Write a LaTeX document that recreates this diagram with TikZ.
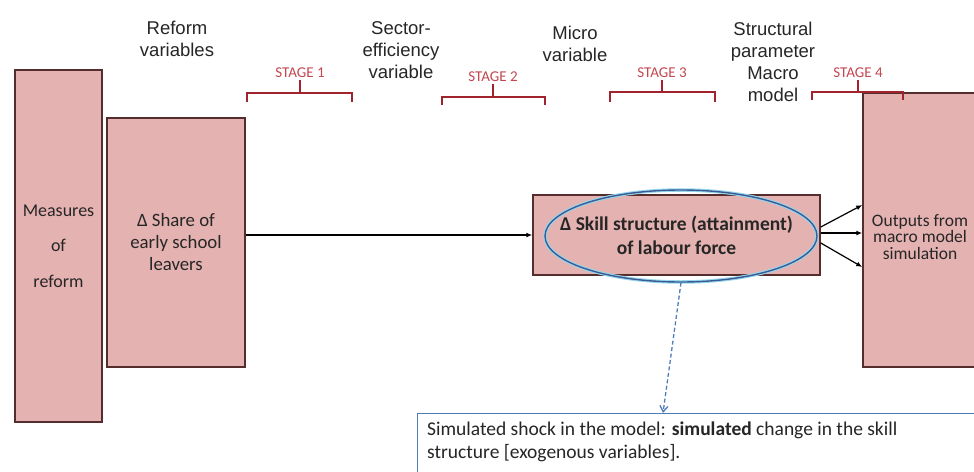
\documentclass[tikz,border=0pt]{standalone}
\usepackage{fontspec}
\setmainfont{Carlito}
\newfontfamily\hdrfont{Liberation Sans}
\usetikzlibrary{shapes.geometric,arrows.meta}
\definecolor{boxfill}{RGB}{228,178,177}
\definecolor{boxline}{RGB}{85,45,45}
\definecolor{stagered}{RGB}{195,70,80}
\definecolor{bracketred}{RGB}{160,35,45}
\definecolor{ellblue}{RGB}{60,90,150}
\definecolor{ellglow}{RGB}{150,215,235}
\definecolor{noteblue}{RGB}{80,125,185}
\begin{document}
\begin{tikzpicture}[x=1pt,y=-1pt,
  pbox/.style={draw=boxline,fill=boxfill,line width=1.5pt,inner sep=0pt},
  boxtext/.style={font=\fontsize{18.8}{22}\selectfont,align=center,text=black!85},
  header/.style={font=\hdrfont\fontsize{18.5}{22}\selectfont,align=center,text=black!85},
  stagelbl/.style={font=\fontsize{15}{16}\selectfont,text=stagered,inner sep=1.5pt},
  bracket/.style={draw=bracketred,line width=1.8pt},
  flow/.style={-{Latex[length=6pt,width=5pt]},line width=1.2pt},
]
\useasboundingbox (0,0) rectangle (974,471);
\clip (0,0) rectangle (974,471);

% column headings
\node[header] (reform) at (177,38.5) {Reform\\variables};
\node[header] (sector) at (401,50) {Sector-\\efficiency\\variable};
\node[header] (micro) at (575,43.5) {Micro\\variable};
\node[header] (structural) at (773,61.5) {Structural\\parameter\\Macro\\model};

% main boxes
\node[pbox,boxtext,font=\fontsize{18}{35.5}\selectfont,minimum width=87pt,minimum height=352pt] (measures) at (58.5,246) {Measures\\of\\reform};
\node[pbox,boxtext,minimum width=138pt,minimum height=249pt] (share) at (176,242.5) {Δ Share of\\early school\\leavers};
\node[pbox,boxtext,font=\bfseries\fontsize{19.5}{24}\selectfont,minimum width=287pt,minimum height=80pt] (skill) at (676.5,235) {Δ Skill structure (attainment)\\of labour force};
\node[ellipse,draw=ellblue,line width=1.4pt,preaction={draw=ellglow,line width=3.5pt},minimum width=272pt,minimum height=92pt,inner sep=0pt] (focus) at (681,236) {};
\node[pbox,minimum width=114pt,minimum height=274pt] (macro) at (920,230) {};
\node[boxtext,font=\fontsize{17.5}{16.5}\selectfont,inner sep=0pt] (macrotxt) at (920,237) {Outputs from\\macro model\\simulation};

% stage brackets
\node[stagelbl] (s1) at (300,73) {STAGE 1};
\node[stagelbl] (s2) at (493,77) {STAGE 2};
\node[stagelbl] (s3) at (662,73) {STAGE 3};
\node[stagelbl] (s4) at (858,73) {STAGE 4};
\draw[bracket] (247,102) -- (247,93) -- (352,93) -- (352,102) (300,93) -- (s1.south);
\draw[bracket] (442,105) -- (442,97) -- (545,97) -- (545,105) (493,97) -- (s2.south);
\draw[bracket] (610,102) -- (610,92) -- (715,92) -- (715,102) (662,92) -- (s3.south);
\draw[bracket] (812,100) -- (812,92) -- (903,92) -- (903,100) (858,92) -- (s4.south);

% flow arrows
\draw[flow] (share.east |- skill.west) -- (skill.west);
\draw[flow] ([yshift=8pt]skill.east) -- ([yshift=25pt]macro.west);
\draw[flow] ([yshift=2pt]skill.east) -- ([yshift=-3pt]macro.west);
\draw[flow] ([yshift=-8pt]skill.east) -- ([yshift=-37pt]macro.west);

% explanatory note
\node[draw=noteblue,line width=0.9pt,fill=white,anchor=north west,minimum width=600pt,minimum height=80pt] (note) at (417,413) {};
\node[anchor=north west,align=left,font=\fontsize{19.5}{23}\selectfont,text=black!85,inner sep=0pt] (notetxt) at (427,422) {Simulated shock in the model: \textbf{simulated} change in the skill\\structure [exogenous variables].};
\draw[dashed,dash pattern=on 4pt off 2.5pt,noteblue,line width=1.3pt,-{Straight Barb[length=6pt,width=8pt]}] (focus.south) -- ([xshift=246pt]note.north west);
\end{tikzpicture}
\end{document}
